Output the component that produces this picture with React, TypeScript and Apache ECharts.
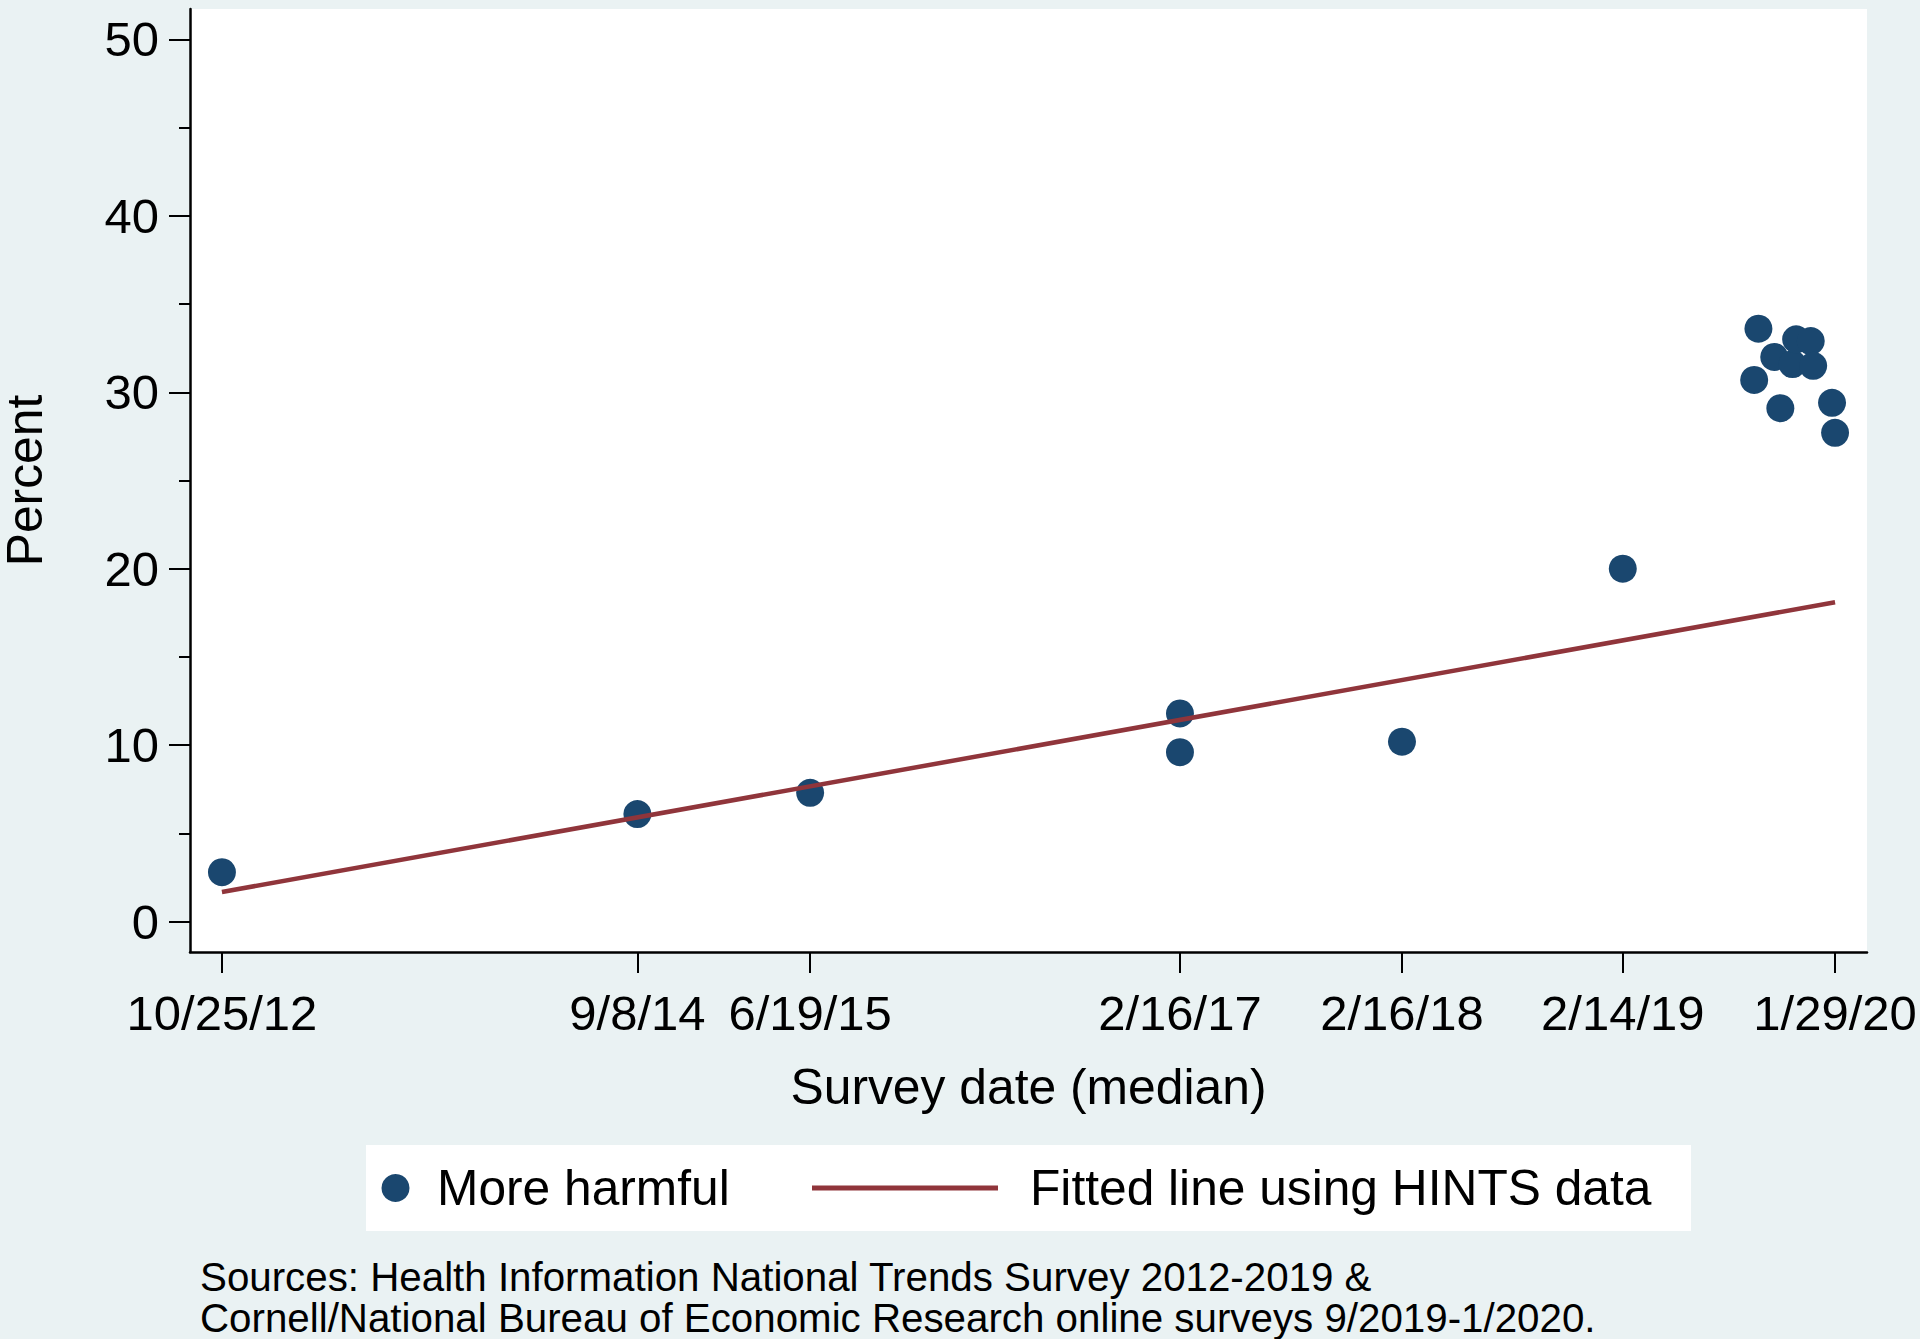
import React, { useEffect, useRef } from "react";
import * as echarts from "echarts";

// ---- Data ----
const tickLabels = ["10/25/12", "9/8/14", "6/19/15", "2/16/17", "2/16/18", "2/14/19", "1/29/20"];
const yMajorTicks = [0, 10, 20, 30, 40, 50];
const yMinorTicks = [5, 15, 25, 35, 45];

// HINTS surveys
const hintsDates = ["2012-10-25", "2014-09-08", "2015-06-19", "2017-02-16", "2017-02-16", "2018-02-16", "2019-02-14"];
const hintsValues = [2.8, 6.1, 7.3, 11.8, 9.6, 10.2, 20.0];
// Cornell/NBER online surveys
const nberDates = ["2019-09-18", "2019-09-25", "2019-10-21", "2019-10-31", "2019-11-20", "2019-11-26", "2019-12-20", "2019-12-24", "2020-01-24", "2020-01-29"];
const nberValues = [30.7, 33.6, 32.0, 29.1, 31.6, 33.0, 32.9, 31.5, 29.4, 27.7];
// Fitted line using HINTS data (endpoints)
const fitDates = ["2012-10-25", "2020-01-29"];
const fitValues = [1.68, 18.1];

const seriesName = "More harmful";
const fitName = "Fitted line using HINTS data";
const xTitle = "Survey date (median)";
const yTitle = "Percent";
const sourceLines = [
  "Sources: Health Information National Trends Survey 2012-2019 &",
  "Cornell/National Bureau of Economic Research online surveys 9/2019-1/2020.",
];

const DAY = 86400000;
const isoToTs = (s: string) => {
  const [y, m, d] = s.split("-").map(Number);
  return Date.UTC(y, m - 1, d);
};
const mdyToTs = (s: string) => {
  const [m, d, y] = s.split("/").map(Number);
  return Date.UTC(2000 + y, m - 1, d);
};

const tickTs = tickLabels.map(mdyToTs);
const xMin = tickTs[0] - 52.5 * DAY;
const xMax = tickTs[tickTs.length - 1] + 52.5 * DAY;
const yMin = -1.72;
const yMax = 51.72;

const NAVY = "#1a476f";
const MAROON = "#90353b";
const BG = "#eaf2f3";
const FONT = "'Liberation Sans', Arial, sans-serif";

export default function App() {
  const ref = useRef<HTMLDivElement>(null);
  useEffect(() => {
    if (!ref.current) return;
    const chart = echarts.init(ref.current, undefined, { renderer: "svg" });
    const scatterData = [
      ...hintsDates.map((d, i) => [isoToTs(d), hintsValues[i]]),
      ...nberDates.map((d, i) => [isoToTs(d), nberValues[i]]),
    ];
    const fitData = fitDates.map((d, i) => [isoToTs(d), fitValues[i]]);
    const option: any = {
      animation: false,
      backgroundColor: BG,
      textStyle: { fontFamily: FONT },
      grid: {
        left: 190,
        right: 53,
        top: 9,
        bottom: 387,
        show: true,
        backgroundColor: "#ffffff",
        borderWidth: 0,
        containLabel: false,
        outerBoundsMode: "none",
      },
      xAxis: {
        type: "value",
        min: xMin,
        max: xMax,
        splitLine: { show: false },
        axisLine: { show: true, onZero: false, lineStyle: { color: "#000", width: 2.5 } },
        axisTick: { show: true, customValues: tickTs, length: 21, lineStyle: { color: "#000", width: 2 } },
        axisLabel: {
          customValues: tickTs,
          formatter: (v: number) => {
            const idx = tickTs.findIndex((t) => Math.abs(t - v) < DAY / 2);
            return idx >= 0 ? tickLabels[idx] : "";
          },
          fontSize: 49,
          color: "#000",
          margin: 36,
          fontFamily: FONT,
        },
        name: xTitle,
        nameLocation: "middle",
        nameGap: 110,
        nameTextStyle: { fontSize: 49.8, color: "#000", fontFamily: FONT },
      },
      yAxis: [
        {
          type: "value",
          min: yMin,
          max: yMax,
          splitLine: { show: false },
          axisLine: { show: true, onZero: false, lineStyle: { color: "#000", width: 2.5 } },
          axisTick: { show: true, customValues: yMajorTicks, length: 21, lineStyle: { color: "#000", width: 2 } },
          axisLabel: { customValues: yMajorTicks, fontSize: 49, color: "#000", margin: 31, fontFamily: FONT },
          name: yTitle,
          nameLocation: "middle",
          nameGap: 145,
          nameRotate: 90,
          nameTextStyle: { fontSize: 49.8, lineHeight: 40, color: "#000", fontFamily: FONT },
        },
        {
          type: "value",
          min: yMin,
          max: yMax,
          position: "left",
          offset: 0,
          splitLine: { show: false },
          axisLine: { show: false, onZero: false },
          axisTick: { show: true, customValues: yMinorTicks, length: 11, lineStyle: { color: "#000", width: 2 } },
          axisLabel: { show: false },
        },
      ],
      series: [
        {
          name: seriesName,
          type: "scatter",
          data: scatterData,
          symbol: "circle",
          symbolSize: 28,
          itemStyle: { color: NAVY, opacity: 1 },
          z: 2,
        },
        {
          name: fitName,
          type: "line",
          data: fitData,
          showSymbol: false,
          symbol: "none",
          lineStyle: { color: MAROON, width: 4.5 },
          z: 3,
        },
      ],
      graphic: [
        {
          type: "rect",
          shape: { x: 366, y: 1145, width: 1325, height: 86 },
          style: { fill: "#ffffff" },
          z: 1,
        },
        {
          type: "circle",
          shape: { cx: 395.5, cy: 1188, r: 14 },
          style: { fill: NAVY },
          z: 2,
        },
        {
          type: "text",
          x: 437,
          y: 1188,
          style: { text: seriesName, fill: "#000", fontSize: 49.7, fontFamily: FONT, verticalAlign: "middle", align: "left" },
          z: 2,
        },
        {
          type: "line",
          shape: { x1: 812, y1: 1188, x2: 998, y2: 1188 },
          style: { stroke: MAROON, lineWidth: 5 },
          z: 2,
        },
        {
          type: "text",
          x: 1030,
          y: 1188,
          style: { text: fitName, fill: "#000", fontSize: 49.7, fontFamily: FONT, verticalAlign: "middle", align: "left" },
          z: 2,
        },
        {
          type: "text",
          x: 200,
          y: 1277,
          style: { text: sourceLines[0], fill: "#000", fontSize: 40.3, lineHeight: 40, fontFamily: FONT, verticalAlign: "middle", align: "left" },
        },
        {
          type: "text",
          x: 200,
          y: 1318,
          style: { text: sourceLines[1], fill: "#000", fontSize: 40.3, lineHeight: 40, fontFamily: FONT, verticalAlign: "middle", align: "left" },
        },
      ],
    };
    chart.setOption(option);
    return () => chart.dispose();
  }, []);
  return (
    <div
      ref={ref}
      style={{ position: "absolute", left: 0, top: 0, width: 1920, height: 1339, background: BG }}
    />
  );
}
